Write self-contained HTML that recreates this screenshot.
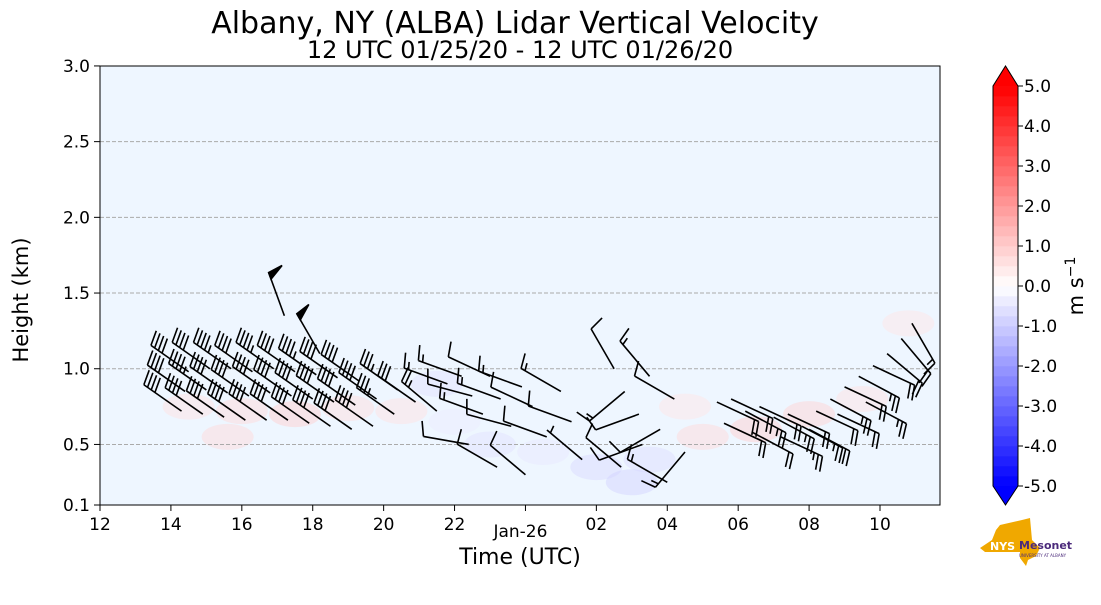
<!DOCTYPE html>
<html><head><meta charset="utf-8"><style>
body{margin:0;background:#fff;width:1101px;height:600px;overflow:hidden;font-family:"Liberation Sans","DejaVu Sans",sans-serif}
svg text{font-family:"DejaVu Sans","Liberation Sans",sans-serif}
</style></head><body>
<svg id="c" width="1101" height="600" viewBox="0 0 1101 600">
<text x="515" y="33" font-size="30" text-anchor="middle">Albany, NY (ALBA) Lidar Vertical Velocity</text>
<text x="520" y="58" font-size="24" text-anchor="middle">12 UTC 01/25/20 - 12 UTC 01/26/20</text>
<rect x="100" y="66" width="840" height="439" fill="#eef6ff"/>
<g id="shade"></g><g id="grid"></g><g id="barbs"></g>
<rect x="100" y="66" width="840" height="439" fill="none" stroke="#000" stroke-width="1"/>
<g id="axes"></g>
<text x="520" y="564" font-size="22" text-anchor="middle">Time (UTC)</text>
<text transform="translate(28,300) rotate(-90)" font-size="21" text-anchor="middle">Height (km)</text>
<g id="cbar"></g>
<text transform="translate(1083,286) rotate(-90)" font-size="21" text-anchor="middle">m s<tspan dy="-8" font-size="14">−1</tspan></text>
<g>
<path d="M1000 525 L1022 520 L1030 518 L1032 540 L1040 548 L1036 556 L1028 560 L1026 566 L1020 558 L1020 552 L985 552 L980 548 L992 540 L996 530 Z" fill="#f0a800"/>
<text x="990" y="550" font-size="11" font-weight="bold" fill="#fff">NYS</text>
<text x="1019" y="549" font-size="11" font-weight="bold" fill="#4b2a7b">Mesonet</text>
<text x="1019" y="557" font-size="4" fill="#4b2a7b">UNIVERSITY AT ALBANY</text>
</g>
</svg>
<script>
const NS="http://www.w3.org/2000/svg";
const xTickHours=[0,2,4,6,8,10,12,14,16,18,20,22];
const xTickLabels=["12","14","16","18","20","22","","02","04","06","08","10"];
const yTicks=[0.1,0.5,1.0,1.5,2.0,2.5,3.0];
const yTickLabels=["0.1","0.5","1.0","1.5","2.0","2.5","3.0"];
const cbTicks=[5,4,3,2,1,0,-1,-2,-3,-4,-5];
// wind barbs: hours since 12 UTC, height km, direction deg, speed kt
const barbT=[2.3,2.4,2.5,2.9,3.0,3.1,3.5,3.6,3.7,4.1,4.2,4.3,4.7,4.8,4.9,5.3,5.4,5.5,5.9,6.0,6.1,6.5,6.6,6.7,7.1,7.2,7.3,7.7,7.8,8.3,8.4,8.9,9.5,5.2,6.2,
 9.8,10.2,10.5,10.8,11.0,11.3,11.6,11.9,12.2,12.6,13.0,13.3,13.6,10.4,11.2,12.0,
 14.5,14.8,15.2,15.5,15.8,16.2,16.5,14.7,15.3,16.0,
 17.4,17.8,18.2,18.6,19.0,19.4,19.8,20.2,20.6,21.0,21.4,21.8,17.6,18.4,19.2,20.0,20.8,21.6,22.2,22.6,22.9];
const barbH=[0.72,0.85,0.98,0.70,0.86,1.00,0.68,0.84,1.00,0.66,0.82,0.98,0.66,0.84,1.00,0.66,0.82,0.98,0.64,0.80,0.96,0.62,0.78,0.94,0.60,0.76,0.92,0.62,0.80,0.70,0.86,0.78,0.72,1.35,1.10,
 0.90,0.95,0.82,0.70,0.95,0.80,0.62,0.88,0.75,0.55,0.85,0.65,0.40,0.50,0.35,0.30,
 1.00,0.85,0.70,0.95,0.60,0.80,0.45,0.35,0.50,0.25,
 0.78,0.80,0.72,0.75,0.68,0.70,0.62,0.72,0.80,0.88,0.95,1.02,0.64,0.58,0.55,0.60,0.70,0.78,1.10,1.20,1.30];
const barbD=[305,305,305,305,305,305,305,305,305,305,305,305,305,305,305,305,305,305,305,305,305,305,305,305,305,305,305,305,305,305,305,305,310,340,330,
 290,290,285,290,295,290,285,290,295,290,300,290,310,280,300,310,
 330,230,250,320,240,300,220,310,250,300,
 115,115,118,115,118,115,118,115,118,115,118,115,115,118,115,118,115,118,130,140,150];
const barbS=[40,40,40,40,45,40,40,40,45,40,40,40,40,40,45,40,40,40,40,40,45,40,40,40,40,40,40,40,40,35,35,30,25,50,50,
 15,15,10,15,10,15,10,15,10,10,15,10,5,10,10,10,
 10,15,10,15,10,10,15,10,10,15,
 20,20,25,20,25,20,25,20,25,20,25,20,20,20,25,20,20,25,20,20,15];
// vertical velocity patches: time, height, value (m/s)
const patchT=[2.5,4,5.5,7,8.5,10,11,12.5,14,15.5,17,18.5,20,21.5,22.8,3.6,9.5,15,16.5];
const patchH=[0.75,0.72,0.70,0.74,0.72,0.65,0.5,0.45,0.35,0.4,0.55,0.6,0.7,0.8,1.3,0.55,0.9,0.25,0.75];
const patchV=[0.6,0.8,1.0,0.7,0.6,-0.4,-0.6,-0.5,-0.8,-0.7,0.8,1.0,0.9,0.6,0.5,0.8,-0.6,-0.9,0.5];

const X=t=>100+t*35.4545;
const Y=h=>505-(h-0.1)*151.4;
function mk(tag,attrs,parent){const e=document.createElementNS(NS,tag);for(const k in attrs)e.setAttribute(k,attrs[k]);parent.appendChild(e);return e;}
function bwr(v){let n=Math.max(0,Math.min(1,(v+5)/10));let r,g,b;if(n<0.5){r=2*n;g=2*n;b=1;}else{r=1;g=2*(1-n);b=2*(1-n);}return `rgb(${Math.round(r*255)},${Math.round(g*255)},${Math.round(b*255)})`;}

const shade=document.getElementById('shade');
patchT.forEach((t,i)=>{const e=mk('ellipse',{cx:X(t),cy:Y(patchH[i]),rx:26,ry:13,fill:bwr(patchV[i]),opacity:0.45},shade);

});

const grid=document.getElementById('grid');
yTicks.slice(1,-1).forEach(h=>{const l=mk('line',{x1:100,x2:940,y1:Y(h),y2:Y(h),stroke:'#aaa','stroke-dasharray':'4,2','stroke-width':1},grid);

});

const bg=document.getElementById('barbs');
barbT.forEach((t,i)=>{
 const x0=X(t),y0=Y(barbH[i]),d=barbD[i]*Math.PI/180,L=46;
 const dx=Math.sin(d),dy=-Math.cos(d),px=-dy,py=dx;
 const g=mk('g',{stroke:'#000','stroke-width':1.6,fill:'#000'},bg);
 
 
 const x1=x0+dx*L,y1=y0+dy*L;
 mk('line',{x1:x0,y1:y0,x2:x1,y2:y1},g);
 let s=barbS[i],pos=0;
 while(s>=50){const ax=x1-dx*pos,ay=y1-dy*pos;
  mk('polygon',{points:`${ax},${ay} ${ax+px*15+dx*2},${ay+py*15+dy*2} ${ax-dx*7},${ay-dy*7}`},g);pos+=8;s-=50;}
 while(s>=10){const ax=x1-dx*pos,ay=y1-dy*pos;mk('line',{x1:ax,y1:ay,x2:ax+px*15+dx*4,y2:ay+py*15+dy*4},g);pos+=4.5;s-=10;}
 if(s>=5){if(pos===0)pos=4.5;const ax=x1-dx*pos,ay=y1-dy*pos;mk('line',{x1:ax,y1:ay,x2:ax+px*7.5+dx*2,y2:ay+py*7.5+dy*2},g);}
});

const ax=document.getElementById('axes');
xTickHours.forEach((t,i)=>{const l=mk('line',{x1:X(t),x2:X(t),y1:505,y2:511,stroke:'#000'},ax);


const tx=mk('text',{x:X(t),y:530,'font-size':17,'text-anchor':'middle'},ax);tx.textContent=xTickLabels[i];

});
const jt=mk('text',{x:X(12)-5,y:537,'font-size':17,'text-anchor':'middle'},ax);jt.textContent='Jan-26';


yTicks.forEach((h,i)=>{const l=mk('line',{x1:94,x2:100,y1:Y(h),y2:Y(h),stroke:'#000'},ax);


const tx=mk('text',{x:90,y:Y(h)+6,'font-size':17,'text-anchor':'end'},ax);tx.textContent=yTickLabels[i];

});

const cb=document.getElementById('cbar');
const cbY=v=>286-v*40, cx0=993,cw=25;
for(let v=-5;v<5;v+=0.25){const r=mk('rect',{x:cx0,y:cbY(v+0.25),width:cw,height:10.3,fill:bwr(v+0.125)},cb);

}
const tri1=mk('polygon',{points:`${cx0},86 ${cx0+cw/2},66 ${cx0+cw},86`,fill:bwr(5)},cb);


const tri2=mk('polygon',{points:`${cx0},486 ${cx0+cw/2},505 ${cx0+cw},486`,fill:bwr(-5)},cb);


mk('polygon',{points:`${cx0},86 ${cx0+cw/2},66 ${cx0+cw},86 ${cx0+cw},486 ${cx0+cw/2},505 ${cx0},486`,fill:'none',stroke:'#000','stroke-width':1},cb);
cbTicks.forEach(v=>{mk('line',{x1:cx0+cw,x2:cx0+cw+5,y1:cbY(v),y2:cbY(v),stroke:'#000'},cb);
const tx=mk('text',{x:1024,y:cbY(v)+6,'font-size':17},cb);tx.textContent=v.toFixed(1);

});
</script>
</body></html>
